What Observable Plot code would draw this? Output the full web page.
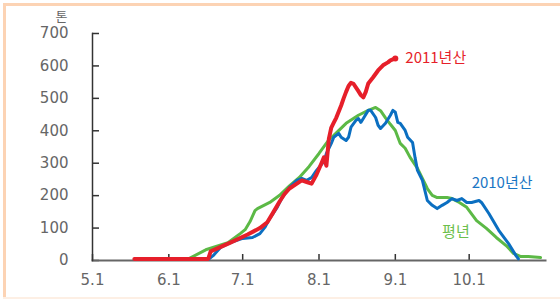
<!DOCTYPE html>
<html><head><meta charset="utf-8">
<script src="https://cdn.jsdelivr.net/npm/d3@7"></script>
<script src="https://cdn.jsdelivr.net/npm/@observablehq/plot@0.6"></script>
<style>
html,body{margin:0;padding:0;background:#fff;}
#wrap{position:relative;width:560px;height:299px;overflow:hidden;background:#fff;}
#chart{position:absolute;left:0;top:0;}
.bd{position:absolute;background:#fcd3b4;}
</style></head>
<body>
<div id="wrap">
  <div id="chart"></div>
  <div class="bd" style="left:3px;top:3px;width:557px;height:3px;"></div>
  <div class="bd" style="left:3px;top:3px;width:3px;height:296px;"></div>
  <div class="bd" style="left:3px;top:297px;width:557px;height:2px;background:#fdefe4;"></div>
</div>
<script>
// ---- data (month-day on a common season axis) ----
const xTickLabels = ["5.1", "6.1", "7.1", "8.1", "9.1", "10.1"];
const yTicks = [0, 100, 200, 300, 400, 500, 600, 700];
const domainStart = "5.1";
const domainEnd = "11.1";

const y2011Dates = ["5.18","6.17","6.18","6.26","7.3","7.8","7.11","7.13","7.16","7.18","7.20","7.23","7.25","7.27","7.29","7.31","8.2","8.3","8.4","8.5","8.6","8.7","8.8","8.10","8.11","8.12","8.13","8.14","8.15","8.17","8.18","8.19","8.20","8.21","8.23","8.25","8.27","8.29","8.30","9.1"];
const y2011Values = [5,5,28,55,80,100,118,143,182,205,222,237,247,242,237,265,300,318,292,375,410,425,440,478,500,520,538,548,545,522,510,503,520,546,565,586,602,611,617,623];

const y2010Dates = ["5.18","6.17","6.19","6.22","6.26","7.1","7.5","7.8","7.10","7.12","7.15","7.17","7.20","7.23","7.25","7.27","7.29","7.31","8.3","8.4","8.6","8.7","8.9","8.10","8.12","8.13","8.14","8.16","8.17","8.18","8.19","8.21","8.22","8.24","8.25","8.26","8.28","8.30","8.31","9.1","9.2","9.3","9.5","9.6","9.8","9.9","9.10","9.12","9.14","9.16","9.18","9.20","9.22","9.24","9.26","9.28","9.30","10.2","10.5","10.6","10.9","10.13","10.17","10.20","10.21"];
const y2010Values = [3,3,15,40,55,68,71,83,102,130,164,194,225,247,253,247,256,278,305,330,361,380,392,380,370,380,411,432,438,426,438,463,463,441,417,407,423,448,463,457,426,423,401,380,364,318,278,247,185,170,160,170,179,191,185,191,179,179,185,179,145,93,52,15,5];

const normDates = ["5.18","6.9","6.16","6.25","6.30","7.2","7.4","7.6","7.7","7.12","7.16","7.20","7.24","7.28","8.1","8.5","8.7","8.12","8.17","8.21","8.24","8.26","8.28","8.30","9.1","9.3","9.5","9.7","9.10","9.12","9.14","9.16","9.18","9.22","9.24","9.27","9.30","10.4","10.8","10.12","10.16","10.19","10.22","10.25","10.30"];
const normValues = [3,5,33,55,83,95,120,154,160,179,201,230,256,290,330,372,386,423,448,463,472,462,440,420,401,361,346,318,284,253,222,201,194,194,191,179,164,123,99,71,46,22,12,12,9];

const seriesNames = ["2011년산", "2010년산", "평년"];
// label anchors (series, month.day, value)
const labelDates = ["9.1", "10.2", "9.20"];
const labelValues = [623, 238, 86];

// ---- helpers ----
const md = s => { const [m, d] = s.split(".").map(Number); return new Date(Date.UTC(2011, m - 1, d)); };
const zip = (ds, vs) => ds.map((d, i) => ({date: md(d), value: vs[i]}));
const s2011 = zip(y2011Dates, y2011Values);
const s2010 = zip(y2010Dates, y2010Values);
const sNorm = zip(normDates, normValues);
const xTicks = xTickLabels.map(md);
const fmt = d => `${d.getUTCMonth() + 1}.${d.getUTCDate()}`;

const RED = "#e61f2a", BLUE = "#0b6fc1", GREEN = "#5cb946";
const numFont = "DejaVu Sans";
const korFont = "'Noto Sans CJK KR', 'Noto Sans', sans-serif";

const chart = Plot.plot({
  width: 560, height: 299,
  marginLeft: 92, marginRight: 15, marginTop: 33, marginBottom: 39,
  style: {fontFamily: numFont, fontSize: "15px", background: "transparent", overflow: "visible"},
  x: {type: "utc", domain: [md(domainStart), md(domainEnd)]},
  y: {domain: [0, 700]},
  marks: [
    Plot.axisY(yTicks, {tickSize: -7, tickPadding: 31, stroke: "#333", strokeWidth: 1.5, fill: "#666", fontSize: 15, label: null}),
    Plot.axisX(xTicks, {tickSize: -6, tickPadding: 20, stroke: "#333", strokeWidth: 1.5, fill: "#666", fontSize: 15, tickFormat: fmt, label: null}),
    Plot.frame({anchor: "bottom", stroke: "#666", strokeWidth: 2}),
    Plot.frame({anchor: "left", stroke: "#333", strokeWidth: 1.5}),
    Plot.text(["톤"], {frameAnchor: "top-left", dx: -31, dy: -22, fontSize: 13, fill: "#666", fontFamily: korFont, textAnchor: "middle"}),
    Plot.line(sNorm, {x: "date", y: "value", stroke: GREEN, strokeWidth: 3, strokeLinejoin: "round", strokeLinecap: "round"}),
    Plot.line(s2010, {x: "date", y: "value", stroke: BLUE, strokeWidth: 3, strokeLinejoin: "round", strokeLinecap: "round"}),
    Plot.line(s2011, {x: "date", y: "value", stroke: RED, strokeWidth: 4, strokeLinejoin: "round", strokeLinecap: "round"}),
    Plot.dot([s2011[s2011.length - 1]], {x: "date", y: "value", r: 3, fill: RED}),
    Plot.text([0], {x: () => md(labelDates[0]), y: () => labelValues[0], text: () => seriesNames[0], dx: 10, textAnchor: "start", fill: RED, fontSize: 15, fontFamily: korFont}),
    Plot.text([1], {x: () => md(labelDates[1]), y: () => labelValues[1], text: () => seriesNames[1], textAnchor: "start", fill: "#1a76c4", fontSize: 15, fontFamily: korFont}),
    Plot.text([2], {x: () => md(labelDates[2]), y: () => labelValues[2], text: () => seriesNames[2], textAnchor: "start", fill: "#6cbf4d", fontSize: 15, fontFamily: korFont})
  ]
});
document.getElementById("chart").appendChild(chart);
</script>
</body></html>
